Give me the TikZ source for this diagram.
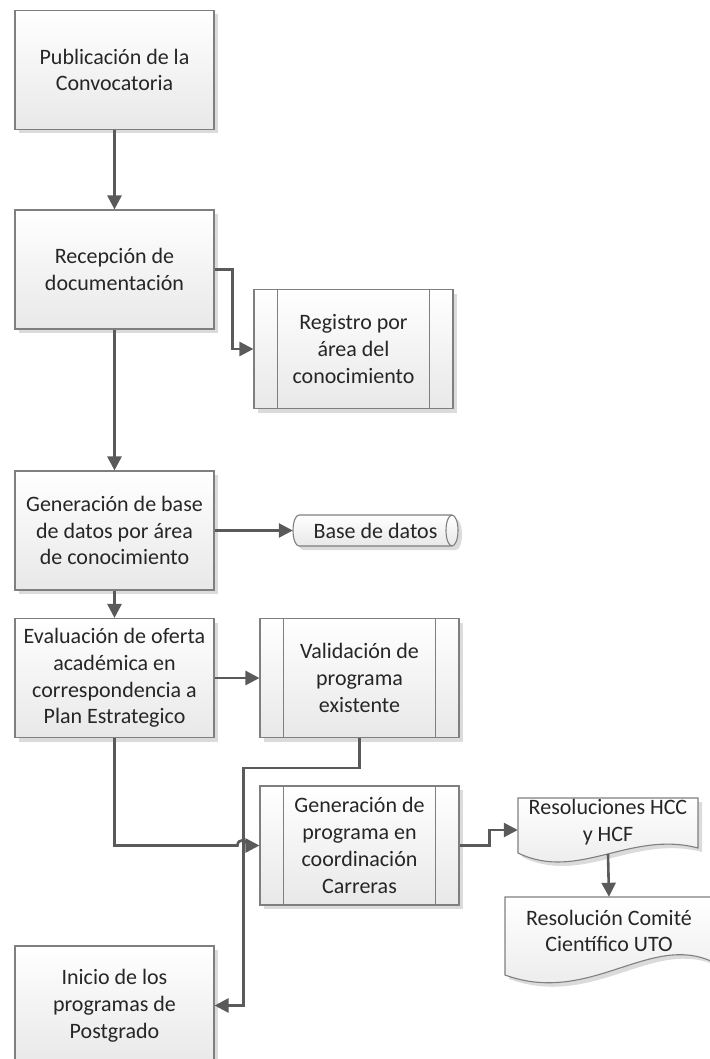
\documentclass[tikz,border=0pt]{standalone}
\usepackage{fontspec}
\setmainfont{Carlito}
\usetikzlibrary{arrows.meta,shadows}
\definecolor{linec}{HTML}{5A5A5A}
\definecolor{borderc}{HTML}{7F7F7F}
\definecolor{textc}{HTML}{262626}
\tikzset{
  shadowed/.style={drop shadow={shadow xshift=4pt,shadow yshift=-4pt,fill=black!14,opacity=1}},
  fillshade/.style={top color=white, bottom color=black!9},
  procbox/.style={draw=borderc, line width=1.1pt, fillshade, shadowed,
    minimum width=199pt, minimum height=119pt, inner sep=0pt, align=center,
    text=textc, font=\fontsize{22}{26.8}\selectfont},
  shapeoutline/.style={draw=borderc, line width=1.1pt, fillshade, shadowed},
  textonly/.style={draw=none, inner sep=0pt, align=center, text=textc,
    font=\fontsize{22}{26.8}\selectfont},
  innerline/.style={draw=borderc, line width=1.1pt},
  conn/.style={draw=linec, line width=2.6pt, -{Triangle[length=14pt,width=14pt]}},
}
\begin{document}
\begin{tikzpicture}[x=1pt,y=-1pt]
\useasboundingbox (0,0) rectangle (709,1059);

% --- shapes drawn directly (database, documents)
\path[shapeoutline] (299,515) -- (452,515)
  arc[start angle=-90,end angle=90,x radius=6,y radius=15.5] -- (299,546)
  arc[start angle=90,end angle=270,x radius=6,y radius=15.5] -- cycle;
\draw[innerline] (452,546) arc[start angle=90,end angle=270,x radius=6,y radius=15.5];

\path[shapeoutline] (518,798) -- (698,798) -- (698,848)
  .. controls (630,830) and (578,882) .. (518,853) -- cycle;
\path[shapeoutline] (505,897) -- (713,897) -- (713,962)
  .. controls (650,932) and (590,1006) .. (505,975) -- cycle;

% --- nodes
\node[procbox] (pub) at (114.5,70) {Publicación de la\\Convocatoria};
\node[procbox] (rec) at (114.5,269.5) {Recepción de\\documentación};
\node[procbox] (reg) at (353.5,349) {Registro por\\área del\\conocimiento};
\node[procbox] (gdb) at (114.5,530.5) {Generación de base\\de datos por área\\de conocimiento};
\node[textonly, minimum width=165pt, minimum height=31pt] (db) at (375.5,530.5) {Base de datos};
\node[procbox] (evl) at (114.5,678) {Evaluación de oferta\\académica en\\correspondencia a\\Plan Estrategico};
\node[procbox] (val) at (359.5,678) {Validación de\\programa\\existente};
\node[procbox] (gen) at (359.5,845.5) {Generación de\\programa en\\coordinación\\Carreras};
\node[textonly, minimum width=180pt, minimum height=48pt] (res1) at (608,822) {Resoluciones HCC\\y HCF};
\node[textonly, minimum width=208pt, minimum height=68pt] (res2) at (609,931) {Resolución Comité\\Científico UTO};
\node[procbox] (ini) at (114.5,1005.5) {Inicio de los\\programas de\\Postgrado};

% subprocess side bars
\foreach \n in {reg,val,gen}{
  \draw[innerline] ([xshift=24pt]\n.north west) -- ([xshift=24pt]\n.south west);
  \draw[innerline] ([xshift=-24pt]\n.north east) -- ([xshift=-24pt]\n.south east);
}

% --- connectors
\draw[conn] (pub.south) -- (rec.north);
\draw[conn] (rec.east) -| ([xshift=-21pt]reg.west) -- (reg.west);
\draw[conn] (rec.south) -- (gdb.north);
\draw[conn] (gdb.east) -- (db.west);
\draw[conn] (gdb.south) -- (evl.north);
\draw[conn] (evl.east) -- (val.west);
\draw[conn] (val.south) -- ++(0,30) -| ([xshift=29pt]ini.east) -- (ini.east);
\coordinate (hopA) at ([xshift=-22pt]gen.west);
\coordinate (hopB) at ([xshift=-12pt]gen.west);
\draw[conn] (evl.south) |- (hopA) .. controls ([yshift=7pt]hopA) and ([yshift=7pt]hopB) .. (hopB) -- (gen.west);
\draw[conn] (gen.east) -- ++(30,0) |- ([yshift=-8pt]res1.west);
\draw[conn] ([yshift=-8pt]res1.south) -- (res2.north);
\end{tikzpicture}
\end{document}
